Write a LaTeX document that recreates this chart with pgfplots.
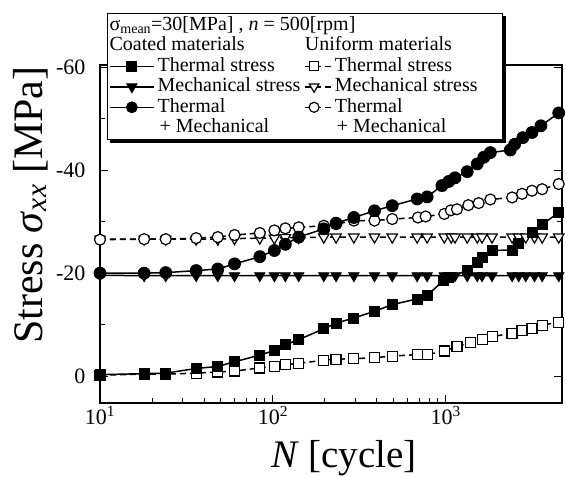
\documentclass[border=0pt]{standalone}
\usepackage{fontspec}
\setmainfont{Liberation Serif}
\usepackage{pgfplots}
\pgfplotsset{compat=1.18}
\pgfplotsset{
  coatleg/.style={legend image code/.code={\draw[mark repeat=2,mark phase=2,##1] plot coordinates {(0pt,0pt) (22pt,0pt) (44pt,0pt)};}},
  unileg/.style={legend image code/.code={\draw[mark repeat=2,mark phase=2,##1] plot coordinates {(0pt,0pt) (9pt,0pt) (26pt,0pt)};}},
  coat/.style={black, line width=1.5pt, mark options={solid, fill=black, line width=0.8pt}},
  coatdown/.style={black, line width=1.5pt, mark options={solid, fill=black, line width=0.8pt, rotate=180}},
  uni/.style={black, line width=1.5pt, dash pattern=on 6pt off 4pt, mark options={solid, fill=white, line width=1.2pt}},
  unidown/.style={black, line width=1.5pt, dash pattern=on 6pt off 4pt, mark options={solid, fill=white, line width=1.2pt, rotate=180}},
}
\begin{document}
\begin{tikzpicture}
\useasboundingbox (-100pt,-74pt) rectangle (466pt,403pt);
\begin{axis}[
  scale only axis, width=462pt, height=338pt,
  xmode=log, xmin=10, xmax=4700,
  ymin=-60.4, ymax=5.2, y dir=reverse,
  xtick={10,100,1000},
  xticklabels={10\textsuperscript{1},10\textsuperscript{2},10\textsuperscript{3}},
  ytick={0,-20,-40,-60}, yticklabels={0,-20,-40,-60},
  minor ytick={-10,-30,-50},
  tick align=inside,
  major tick length=8pt, minor tick length=5pt,
  axis line style={line width=1.2pt},
  every tick/.style={black, line width=1pt},
  tick label style={font=\fontsize{22}{25}\selectfont},
  yticklabel style={xshift=-11pt},
  xlabel={\textit{N} [cycle]},
  ylabel={Stress \textit{σ}\textsubscript{\textit{xx}} [MPa]},
  every axis x label/.style={at={(axis description cs:0.528,-0.191)}, anchor=base, font=\fontsize{39}{44}\selectfont},
  every axis y label/.style={at={(axis description cs:-0.1255,0.585)}, rotate=90, anchor=base, font=\fontsize{42}{46}\selectfont},
  legend columns=2, legend cell align=left,
  legend style={name=leg, at={(0.0152,1.154)}, anchor=north west, draw=black, line width=1.2pt, fill=white,
    inner xsep=1.5pt, inner ysep=1.5pt, font=\fontsize{20}{21}\selectfont, row sep=0pt,
    nodes={inner sep=1pt, text height=14pt, text depth=4.5pt},
    /tikz/every odd column/.append style={column sep=2pt},
    /tikz/every even column/.append style={column sep=3pt}},
]
% Uniform: thermal stress (open squares)
\addplot[uni, mark=square*, mark size=5pt, forget plot] coordinates {
(10,-0.2) (18,-0.4) (24,-0.4) (36,-0.6) (48,-0.8) (60,-1.0) (84,-1.6) (102,-1.9) (118,-2.2) (141,-2.5) (197,-3.1) (232,-3.3) (294,-3.4) (387,-3.6) (490,-3.9) (683,-4.2) (780,-4.2) (987,-4.9) (1162,-5.8) (1389,-6.5) (1622,-7.1) (1853,-7.7) (2417,-8.3) (2761,-8.8) (3155,-9.2) (3606,-9.9) (4500,-10.5)};
% Uniform: mechanical stress (open triangles)
\addplot[unidown, mark=triangle*, mark size=6pt, forget plot] coordinates {
(10,-26.6) (18,-26.6) (24,-26.6) (36,-26.6) (48,-26.6) (60,-26.7) (84,-26.8) (102,-26.8) (118,-26.9) (141,-26.9) (197,-27.0) (232,-27.0) (294,-27.0) (387,-27.0) (490,-27.0) (683,-27.0) (780,-27.0) (980,-27.0) (1075,-27.0) (1130,-27.0) (1330,-27.0) (1520,-27.0) (1620,-27.0) (1850,-27.0) (2420,-27.0) (2640,-27.0) (2900,-27.0) (3260,-27.0) (3610,-27.0) (4500,-27.0)};
% Uniform: thermal + mechanical (open circles)
\addplot[uni, mark=*, mark size=5.5pt, forget plot] coordinates {
(10,-26.5) (18,-26.6) (24,-26.6) (36,-26.8) (48,-27.0) (60,-27.4) (84,-27.8) (102,-28.3) (118,-28.7) (141,-28.9) (197,-29.2) (232,-29.5) (294,-30.2) (387,-30.2) (490,-30.5) (690,-30.8) (765,-31.0) (980,-31.5) (1070,-32.2) (1160,-32.4) (1350,-33.2) (1550,-33.6) (1810,-34.3) (2420,-34.7) (2760,-35.4) (3150,-36.0) (3610,-36.3) (4500,-37.3)};
% Coated: thermal stress (filled squares)
\addplot[coat, mark=square*, mark size=5pt, forget plot] coordinates {
(10,-0.3) (18,-0.5) (24,-0.6) (36,-1.5) (48,-1.9) (60,-2.8) (84,-4.1) (102,-5.0) (118,-6.1) (141,-7.1) (197,-9.2) (232,-10.3) (294,-11.3) (387,-12.6) (490,-13.9) (683,-15.0) (780,-15.7) (973,-18.6) (1040,-19.2) (1328,-20.5) (1518,-22.1) (1622,-23.1) (1853,-24.4) (2417,-24.5) (2641,-25.7) (3155,-27.9) (3606,-29.4) (4500,-31.8)};
% Coated: mechanical stress (filled triangles)
\addplot[coatdown, mark=triangle*, mark size=6pt, forget plot] coordinates {
(10,-19.6) (18,-19.5) (24,-19.5) (36,-19.5) (48,-19.5) (60,-19.5) (84,-19.5) (102,-19.5) (118,-19.5) (141,-19.5) (197,-19.5) (232,-19.5) (294,-19.5) (387,-19.5) (490,-19.5) (683,-19.5) (780,-19.5) (980,-19.5) (1075,-19.5) (1130,-19.5) (1330,-19.5) (1520,-19.5) (1620,-19.5) (1850,-19.5) (2420,-19.5) (2640,-19.5) (2900,-19.5) (3260,-19.5) (3610,-19.5) (4500,-19.5)};
% Coated: thermal + mechanical (filled circles)
\addplot[coat, mark=*, mark size=6pt, forget plot] coordinates {
(10,-20.0) (18,-20.0) (24,-20.1) (36,-20.5) (48,-20.8) (60,-21.8) (84,-23.2) (102,-24.4) (118,-25.6) (141,-27.0) (197,-28.6) (232,-29.7) (294,-30.8) (387,-32.1) (490,-33.1) (683,-34.4) (780,-34.8) (950,-37.0) (1040,-37.8) (1130,-38.5) (1330,-39.7) (1520,-41.2) (1660,-42.5) (1810,-43.4) (2360,-43.9) (2500,-45.0) (2790,-46.3) (3150,-47.3) (3550,-48.6) (4500,-51.1)};
% Legend
\addlegendimage{empty legend}
\addlegendentry{\makebox[0pt][l]{\hspace*{-48pt}σ\textsubscript{mean}=30[MPa] , \textit{n} = 500[rpm]}}
\addlegendimage{empty legend}
\addlegendentry{\hspace*{165pt}}
\addlegendimage{empty legend}
\addlegendentry{\makebox[0pt][l]{\hspace*{-48pt}Coated materials}}
\addlegendimage{empty legend}
\addlegendentry{\makebox[0pt][l]{\hspace*{-30pt}Uniform materials}}
\addlegendimage{coatleg, coat, mark=square*, mark size=5pt}
\addlegendentry{Thermal stress}
\addlegendimage{unileg, uni, mark=square*, mark size=4.5pt}
\addlegendentry{Thermal stress}
\addlegendimage{coatleg, coatdown, mark=triangle*, mark size=6pt}
\addlegendentry{Mechanical stress}
\addlegendimage{unileg, unidown, mark=triangle*, mark size=5.5pt}
\addlegendentry{Mechanical stress}
\addlegendimage{coatleg, coat, mark=*, mark size=5.5pt}
\addlegendentry{Thermal}
\addlegendimage{unileg, uni, mark=*, mark size=5pt}
\addlegendentry{Thermal}
\addlegendimage{empty legend}
\addlegendentry{\hspace*{2pt}+ Mechanical}
\addlegendimage{empty legend}
\addlegendentry{\hspace*{2pt}+ Mechanical}
\end{axis}
% legend box shadow (right and bottom edges)
\draw[black, line width=3pt] ([xshift=1.8pt,yshift=-3pt]leg.north east) -- ([xshift=1.8pt,yshift=-1.8pt]leg.south east) -- ([xshift=3pt,yshift=-1.8pt]leg.south west);
\end{tikzpicture}
\end{document}
